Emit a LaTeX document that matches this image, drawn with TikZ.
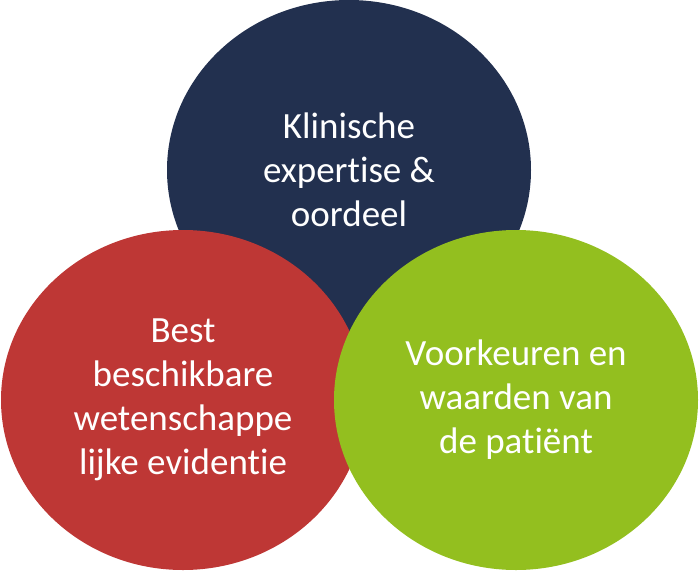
\documentclass[tikz,border=0pt]{standalone}
\usepackage{fontspec}
\setmainfont[Ligatures={NoCommon,NoContextual}]{Carlito}
\usepackage{xcolor}
\definecolor{EvidenceNavy}{HTML}{22304F}
\definecolor{EvidenceRed}{HTML}{BE3735}
\definecolor{EvidenceGreen}{HTML}{93BF1F}
\usepackage{tikz}
\usetikzlibrary{shapes.geometric}

\begin{document}
\begin{tikzpicture}[x=1pt,y=-1pt,
    bubble/.style={ellipse, minimum width=364pt, minimum height=340pt, inner sep=0pt,
        text=white, align=center, font=\fontsize{37}{44}\selectfont}]
        \useasboundingbox (0,0) rectangle (699,571);
        
        \node[bubble, fill=EvidenceNavy] (expertise) at (349,170) {Klinische\\expertise \&\\oordeel};
        \node[bubble, fill=EvidenceRed] (evidentie) at (183,400) {Best\\beschikbare\\wetenschappe\\lijke evidentie};
        \node[bubble, fill=EvidenceGreen] (patient) at (516,400) {Voorkeuren en\\waarden van\\de patiënt};
    \end{tikzpicture}
\end{document}
